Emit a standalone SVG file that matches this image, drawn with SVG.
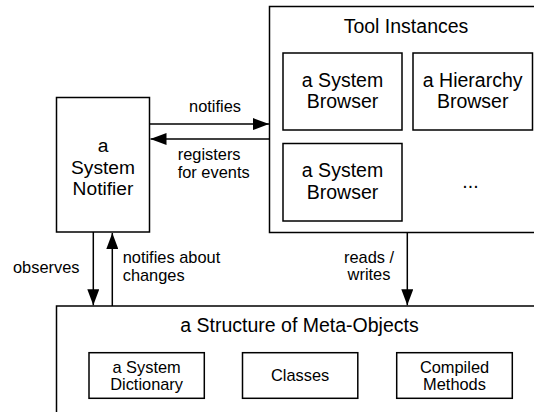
<svg xmlns="http://www.w3.org/2000/svg" width="534" height="412" viewBox="0 0 534 412">
<style>
  .box { fill: #ffffff; stroke: #000000; stroke-width: 1.5; }
  .big { font-family: "Liberation Sans", Arial, sans-serif; font-size: 19.5px; fill: #000; }
  .lbl { font-family: "Liberation Sans", Arial, sans-serif; font-size: 16.4px; fill: #000; }
  .mid { text-anchor: middle; }
  .conn { fill: none; stroke: #000; stroke-width: 1.5; }
</style>
<defs>
  <marker id="arrow" markerUnits="userSpaceOnUse" markerWidth="16" markerHeight="12" refX="16" refY="6" orient="auto">
    <path d="M0,0 L16,6 L0,12 z" fill="#000"/>
  </marker>
</defs>
<rect width="534" height="412" fill="#ffffff"/>

<g id="tool-instances">
  <rect class="box" x="269.5" y="6.5" width="300" height="226"/>
  <text class="big mid" x="406" y="32.5">Tool Instances</text>
</g>
<g id="system-browser-1">
  <rect class="box" x="283" y="53" width="119" height="77"/>
  <text class="big mid" x="342.5" y="86.5">a System</text>
  <text class="big mid" x="342.5" y="108.3">Browser</text>
</g>
<g id="hierarchy-browser">
  <rect class="box" x="413" y="53" width="119.5" height="77"/>
  <text class="big mid" x="472.7" y="86.5">a Hierarchy</text>
  <text class="big mid" x="472.7" y="108.3">Browser</text>
</g>
<g id="system-browser-2">
  <rect class="box" x="283" y="143.5" width="119" height="77.5"/>
  <text class="big mid" x="342.5" y="177">a System</text>
  <text class="big mid" x="342.5" y="198.8">Browser</text>
</g>
<g id="more">
  <text class="big mid" x="470.5" y="187.5">...</text>
</g>

<g id="system-notifier">
  <rect class="box" x="56.5" y="97.5" width="93" height="134.5"/>
  <text class="big mid" x="103" y="152.3" style="font-size:19.2px">a</text>
  <text class="big mid" x="103" y="173.8" style="font-size:19.2px">System</text>
  <text class="big mid" x="103" y="195.3" style="font-size:19.2px">Notifier</text>
</g>

<g id="meta-objects">
  <rect class="box" x="56.5" y="306" width="600" height="200"/>
  <text class="big mid" x="299.5" y="331.7">a Structure of Meta-Objects</text>
</g>
<g id="system-dictionary">
  <rect class="box" x="89" y="352.7" width="115.3" height="45.6"/>
  <text class="lbl mid" x="146.6" y="372.7">a System</text>
  <text class="lbl mid" x="146.6" y="390">Dictionary</text>
</g>
<g id="classes">
  <rect class="box" x="242.5" y="352.7" width="115.3" height="45.6"/>
  <text class="lbl mid" x="300.1" y="381">Classes</text>
</g>
<g id="compiled-methods">
  <rect class="box" x="396.7" y="352.7" width="115.6" height="45.6"/>
  <text class="lbl mid" x="454.5" y="372.7">Compiled</text>
  <text class="lbl mid" x="454.5" y="390">Methods</text>
</g>

<g id="connectors">
  <line class="conn" x1="149.5" y1="124" x2="269" y2="124" marker-end="url(#arrow)"/>
  <line class="conn" x1="269.5" y1="139" x2="150.5" y2="139" marker-end="url(#arrow)"/>
  <line class="conn" x1="93.3" y1="232" x2="93.3" y2="305.3" marker-end="url(#arrow)"/>
  <line class="conn" x1="112.3" y1="306" x2="112.3" y2="233" marker-end="url(#arrow)"/>
  <line class="conn" x1="407.3" y1="232.5" x2="407.3" y2="305.3" marker-end="url(#arrow)"/>
  <text class="lbl mid" x="215" y="112">notifies</text>
  <text class="lbl" x="177.7" y="160">registers</text>
  <text class="lbl" x="177.7" y="177.5">for events</text>
  <text class="lbl" x="13" y="272.5">observes</text>
  <text class="lbl" x="122.7" y="262.5">notifies about</text>
  <text class="lbl" x="122.7" y="280.5">changes</text>
  <text class="lbl mid" x="369" y="263.3">reads /</text>
  <text class="lbl mid" x="369" y="280.3">writes</text>
</g>
</svg>
